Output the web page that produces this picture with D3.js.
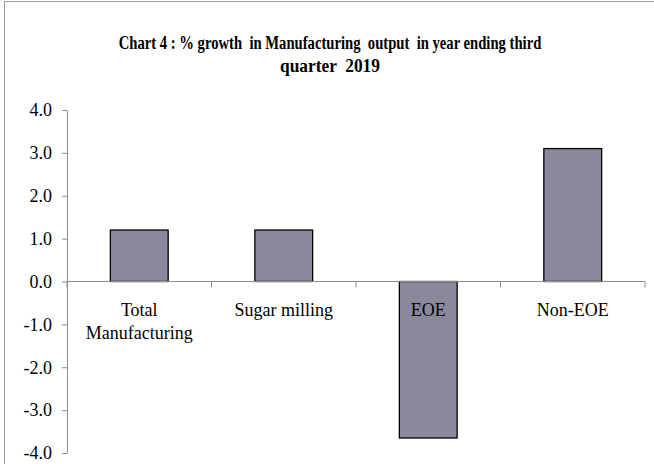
<!DOCTYPE html>
<html>
<head>
<meta charset="utf-8">
<script src="https://cdn.jsdelivr.net/npm/d3@7"></script>
<style>
body{margin:0;background:#fff}
svg{display:block}
.title{white-space:pre}
</style>
</head>
<body>
<svg id="chart"></svg>
<script>
const categories = [['Total','Manufacturing'],['Sugar milling'],['EOE'],['Non-EOE']]
const growth = [1.2, 1.2, -3.65, 3.1]
const yTicks = [4,3,2,1,0,-1,-2,-3,-4]
const titleLines = ['Chart 4 : % growth  in Manufacturing  output  in year ending third','quarter  2019']

const wdth = 654
const hght = 464
const mrgn = {top:110, right:9, bottom:11, left:67}

const svg = d3.select('#chart')
	.attr('width', wdth)
	.attr('height', hght)
	.attr('font-family','"Liberation Serif", "Times New Roman", serif')

// outer frame
svg.append('rect')
	.attr('x',4.5).attr('y',1.5)
	.attr('width', wdth + 10).attr('height', hght + 10)
	.attr('fill','none').attr('stroke','#9a9a9a')

// title, squeezed sideways like the condensed original
const titleWidths = [423, 100]
svg.selectAll('.title')
	.data(titleLines)
	.enter()
	.append('text')
	.classed('title',true)
	.attr('text-anchor','middle')
	.attr('font-weight','bold')
	.attr('font-size','19px')
	.text(d => d)
	.each(function(d,i){
		const w = this.getComputedTextLength()
		const k = Math.min(1, titleWidths[i] / w)
		d3.select(this).attr('transform', `translate(330,${49 + i * 23}) scale(${k},1)`)
	})

const x = d3.scaleBand()
	.domain(d3.range(categories.length))
	.range([mrgn.left, wdth - mrgn.right])
	.paddingInner(0.6)
	.paddingOuter(0.3)

const y = d3.scaleLinear()
	.domain([-4, 4])
	.range([hght - mrgn.bottom, mrgn.top])

const grey = '#8c8c8c'

// y axis
const yAxis = svg.append('g')
	.attr('transform', `translate(${mrgn.left},0)`)
	.call(d3.axisLeft(y).tickValues(yTicks).tickSize(5).tickSizeOuter(0))
yAxis.select('.domain').attr('stroke', grey)
yAxis.selectAll('.tick line').attr('stroke', grey)
yAxis.selectAll('.tick text')
	.attr('x', -15)
	.attr('font-size','18px')
	.attr('fill','#000')
	.attr('font-family','"Liberation Serif", serif')
	.text(d => d3.format('.1f')(d).replace('−','-'))

// bars
svg.selectAll('.bar')
	.data(growth)
	.enter()
	.append('rect')
	.classed('bar',true)
	.attr('x', (d,i) => x(i))
	.attr('width', x.bandwidth())
	.attr('y', d => y(Math.max(0,d)))
	.attr('height', d => Math.abs(y(d) - y(0)))
	.attr('fill','#8a889b')
	.attr('stroke','#000')
	.attr('stroke-width',1.3)

// x axis line with category boundary ticks
const step = x.step()
const bounds = d3.range(categories.length + 1).map(i => mrgn.left + i * step)
svg.append('line')
	.attr('x1', mrgn.left).attr('x2', wdth - mrgn.right)
	.attr('y1', y(0)).attr('y2', y(0))
	.attr('stroke', grey)
svg.selectAll('.xtick')
	.data(bounds)
	.enter()
	.append('line')
	.attr('x1', d => d).attr('x2', d => d)
	.attr('y1', y(0)).attr('y2', y(0) + 6)
	.attr('stroke', grey)

// category labels
const lbl = svg.selectAll('.cat')
	.data(categories)
	.enter()
	.append('text')
	.classed('cat',true)
	.attr('text-anchor','middle')
	.attr('font-size','18px')
	.attr('fill','#000')
lbl.selectAll('tspan')
	.data((d,i) => d.map(t => ({t, i})))
	.enter()
	.append('tspan')
	.attr('x', d => x(d.i) + x.bandwidth() / 2)
	.attr('y', (d,j) => y(0) + 34 + j * 23)
	.text(d => d.t)
</script>
</body>
</html>
